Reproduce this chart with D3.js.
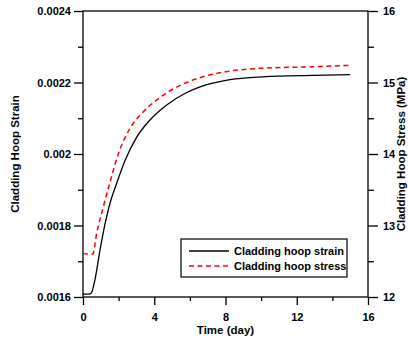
<!DOCTYPE html>
<html>
<head>
<meta charset="utf-8">
<script src="https://cdn.jsdelivr.net/npm/d3@7"></script>
<style>
  body { margin: 0; background: #fff; }
  svg text { font-family: Arial, "Liberation Sans", sans-serif; font-weight: bold; }
</style>
</head>
<body>
<div id="chart"></div>
<script>
// strain curve (left axis)
var strainTime = [0, 0.3, 0.45, 0.67, 0.95, 1.24, 1.52, 1.89, 2.36, 3.0, 3.76, 4.7, 5.82, 6.57, 8.25, 10.1, 12.9, 15.0];
var strainVal  = [0.001608, 0.001608, 0.00161, 0.001648, 0.00173, 0.001805, 0.001863, 0.001918, 0.001982, 0.002046, 0.002095, 0.002137, 0.002172, 0.002188, 0.002208, 0.002216, 0.00222, 0.002222];
// stress curve (right axis)
var stressTime = [0, 0.3, 0.55, 0.77, 1.14, 1.52, 1.98, 2.64, 3.39, 4.32, 5.45, 6.47, 8.25, 10.1, 12.9, 15.0];
var stressVal  = [12.61, 12.60, 12.60, 12.895, 13.26, 13.61, 14.0, 14.36, 14.59, 14.79, 14.96, 15.06, 15.16, 15.20, 15.22, 15.24];

var xTicks = [0, 4, 8, 12, 16];
var xMinor = [2, 6, 10, 14];
var leftTicks = [0.0016, 0.0018, 0.002, 0.0022, 0.0024];
var leftLabels = ["0.0016", "0.0018", "0.002", "0.0022", "0.0024"];
var leftMinor = [0.0017, 0.0019, 0.0021, 0.0023];
var rightTicks = [12, 13, 14, 15, 16];
var rightMinor = [12.5, 13.5, 14.5, 15.5];
var seriesNames = ["Cladding hoop strain", "Cladding hoop stress"];

var W = 408, H = 338;
var margin = {left: 83, top: 11, right: 40, bottom: 41};
var width = W - margin.left - margin.right,
    height = H - margin.top - margin.bottom;

var svg = d3.select("#chart").append("svg")
    .attr("width", W).attr("height", H);
var g = svg.append("g")
    .attr("transform", "translate(" + margin.left + "," + margin.top + ")");

var x = d3.scaleLinear().domain([0, 16]).range([0, width]);
var yL = d3.scaleLinear().domain([0.0016, 0.0024]).range([height, 0]);
var yR = d3.scaleLinear().domain([12, 16]).range([height, 0]);

function styleAxis(sel) {
  sel.select(".domain").remove();
  sel.selectAll("line").attr("stroke", "#000").attr("stroke-width", 1.3);
  sel.selectAll("text").attr("fill", "#000").style("font-size", "11px");
}

// x axis
g.append("g").attr("transform", "translate(0," + height + ")")
  .call(d3.axisBottom(x).tickValues(xTicks).tickSize(8).tickSizeOuter(0).tickPadding(8))
  .call(styleAxis);
g.append("g").attr("transform", "translate(0," + height + ")")
  .call(d3.axisBottom(x).tickValues(xMinor).tickSize(4).tickSizeOuter(0).tickFormat(""))
  .call(styleAxis);

// left axis
g.append("g")
  .call(d3.axisLeft(yL).tickValues(leftTicks).tickSize(9).tickSizeOuter(0).tickPadding(3)
    .tickFormat(function(d, i) { return leftLabels[i]; }))
  .call(styleAxis);
g.append("g")
  .call(d3.axisLeft(yL).tickValues(leftMinor).tickSize(5).tickSizeOuter(0).tickFormat(""))
  .call(styleAxis);

// right axis
g.append("g").attr("transform", "translate(" + width + ",0)")
  .call(d3.axisRight(yR).tickValues(rightTicks).tickSize(10).tickSizeOuter(0).tickPadding(5)
    .tickFormat(d3.format("d")))
  .call(styleAxis);
g.append("g").attr("transform", "translate(" + width + ",0)")
  .call(d3.axisRight(yR).tickValues(rightMinor).tickSize(6).tickSizeOuter(0).tickFormat(""))
  .call(styleAxis);

// frame
g.append("rect")
  .attr("width", width).attr("height", height)
  .attr("fill", "none").attr("stroke", "#000").attr("stroke-width", 1.3);

// curves
var strainData = strainTime.map(function(t, i) { return {t: t, v: strainVal[i]}; });
var stressData = stressTime.map(function(t, i) { return {t: t, v: stressVal[i]}; });

g.append("path").datum(strainData)
  .attr("fill", "none").attr("stroke", "#000").attr("stroke-width", 1.3)
  .attr("d", d3.line().curve(d3.curveMonotoneX)
    .x(function(d) { return x(d.t); })
    .y(function(d) { return yL(d.v); }));

g.append("path").datum(stressData)
  .attr("fill", "none").attr("stroke", "#ff0000").attr("stroke-width", 1.5)
  .attr("stroke-dasharray", "5,3.5")
  .attr("d", d3.line().curve(d3.curveMonotoneX)
    .x(function(d) { return x(d.t); })
    .y(function(d) { return yR(d.v); }));

// axis titles
svg.append("text")
  .attr("transform", "translate(15," + (margin.top + height / 2) + ") rotate(-90)")
  .attr("text-anchor", "middle").attr("dy", "0.35em")
  .style("font-size", "11.5px").text("Cladding Hoop Strain");
svg.append("text")
  .attr("transform", "translate(401," + (margin.top + height / 2) + ") rotate(-90)")
  .attr("text-anchor", "middle").attr("dy", "0.35em")
  .style("font-size", "11.5px").text("Cladding Hoop Stress (MPa)");
svg.append("text")
  .attr("x", margin.left + width / 2).attr("y", 330)
  .attr("text-anchor", "middle").attr("dy", "0.35em")
  .style("font-size", "11.5px").text("Time (day)");

// legend
var leg = svg.append("g");
leg.append("rect")
  .attr("x", 181).attr("y", 239).attr("width", 166).attr("height", 38)
  .attr("fill", "#fff").attr("stroke", "#000").attr("stroke-width", 1.2);
var legY = [251, 266];
leg.append("line").attr("x1", 189).attr("x2", 229).attr("y1", legY[0]).attr("y2", legY[0])
  .attr("stroke", "#000").attr("stroke-width", 1.3);
leg.append("line").attr("x1", 189).attr("x2", 229).attr("y1", legY[1]).attr("y2", legY[1])
  .attr("stroke", "#ff0000").attr("stroke-width", 1.5).attr("stroke-dasharray", "5,3.5");
seriesNames.forEach(function(n, i) {
  leg.append("text").attr("x", 234).attr("y", legY[i]).attr("dy", "0.35em")
    .style("font-size", "11px").text(n);
});
</script>
</body>
</html>
